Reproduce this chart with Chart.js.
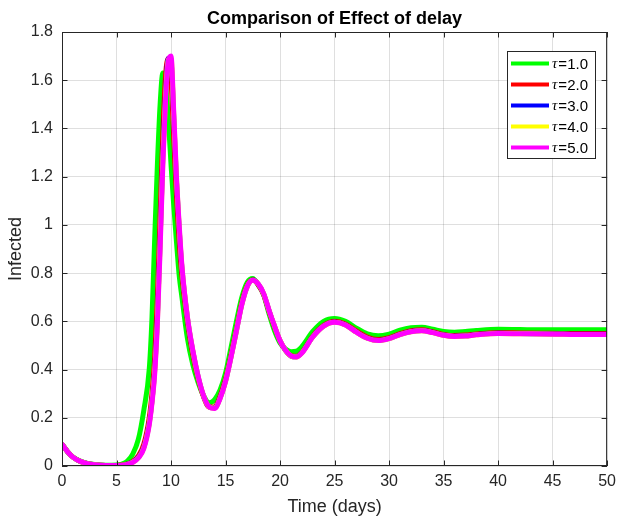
<!DOCTYPE html>
<html><head><meta charset="utf-8">
<script src="https://cdn.jsdelivr.net/npm/chart.js@4"></script>
<style>html,body{margin:0;padding:0;background:#fff;}#wrap{width:622px;height:518px;}</style>
</head><body><div id="wrap"><canvas id="c" width="622" height="518"></canvas></div>
<script>
const titleText = "Comparison of Effect of delay";
const xLabel = "Time (days)";
const yLabel = "Infected";
const seriesLabels = ["τ=1.0", "τ=2.0", "τ=3.0", "τ=4.0", "τ=5.0"];
const seriesColors = ["#00ff00", "#ff0000", "#0000ff", "#ffff00", "#ff00ff"];
const xTicks = [0, 5, 10, 15, 20, 25, 30, 35, 40, 45, 50];
const yTicks = [0, 0.2, 0.4, 0.6, 0.8, 1, 1.2, 1.4, 1.6, 1.8];

const time = [0,0.5,1,1.5,2,3,4,5,5.5,6,6.5,7,7.5,8,8.25,8.5,8.75,9,9.25,9.5,9.75,10,10.25,10.5,10.75,11,11.5,12,12.5,13,13.5,14,14.5,15,15.5,16,16.5,17,17.5,18,18.5,19,19.5,20,20.5,21,21.5,22,23,24,25,26,27,28,29,30,31,32,33,34,35,36,37,38,40,42,44,46,48,50];

const tau1 = [0.09,0.06,0.038,0.024,0.015, 0.006,0.003,0.004,0.008,0.02, 0.05,0.11,0.23,0.40,0.61, 0.94,1.25,1.50,1.63,1.585, 1.44,1.25,1.08,0.93,0.79, 0.70,0.53,0.42,0.345,0.29, 0.262,0.275,0.315,0.385,0.49, 0.60,0.70,0.762,0.778,0.75, 0.71,0.63,0.56,0.51,0.485, 0.474,0.476,0.495,0.558,0.60, 0.612,0.60,0.572,0.548,0.54, 0.547,0.563,0.573,0.575,0.567, 0.558,0.555,0.558,0.562,0.567, 0.566,0.565,0.565,0.565,0.565];
const tau2 = [0.09,0.06,0.037,0.023,0.014, 0.005,0.002,0.002,0.004,0.009, 0.02,0.042,0.09,0.2,0.3, 0.45,0.7,1.04,1.38,1.62, 1.69,1.6,1.36,1.12,0.93, 0.79,0.6,0.46,0.36,0.285, 0.245,0.245,0.29,0.36,0.46, 0.57,0.68,0.75,0.772,0.752, 0.71,0.64,0.575,0.518,0.48, 0.458,0.455,0.472,0.538,0.583, 0.6,0.589,0.56,0.535,0.525, 0.532,0.549,0.561,0.565,0.557, 0.546,0.541,0.543,0.548,0.553, 0.552,0.551,0.55,0.55,0.55];
const tau3 = [0.09,0.06,0.037,0.023,0.014, 0.005,0.002,0.002,0.003,0.008, 0.017,0.036,0.078,0.18,0.27, 0.40,0.62,0.94,1.29,1.55, 1.69,1.68,1.44,1.18,0.98, 0.82,0.615,0.475,0.367,0.288, 0.245,0.242,0.283,0.353,0.453, 0.563,0.673,0.746,0.771,0.754, 0.713,0.643,0.578,0.519,0.48, 0.456,0.453,0.47,0.536,0.581, 0.597,0.586,0.556,0.531,0.521, 0.529,0.546,0.558,0.562,0.554, 0.543,0.538,0.54,0.545,0.551, 0.55,0.548,0.547,0.546,0.546];
const tau4 = [0.09,0.06,0.037,0.023,0.014, 0.005,0.002,0.002,0.003,0.007, 0.016,0.034,0.075,0.175,0.265, 0.39,0.60,0.92,1.27,1.535, 1.685,1.69,1.455,1.19,0.99, 0.825,0.618,0.478,0.368,0.289, 0.245,0.24,0.281,0.351,0.451, 0.561,0.671,0.745,0.77,0.755, 0.714,0.644,0.579,0.52,0.48, 0.456,0.452,0.469,0.535,0.58, 0.596,0.585,0.555,0.53,0.52, 0.528,0.545,0.557,0.561,0.553, 0.542,0.537,0.539,0.544,0.55, 0.549,0.547,0.546,0.545,0.545];
const tau5 = [0.09,0.06,0.037,0.023,0.014, 0.005,0.002,0.002,0.003,0.007, 0.015,0.033,0.072,0.17,0.26, 0.38,0.59,0.90,1.25,1.52, 1.68,1.70,1.47,1.2,1.0, 0.83,0.62,0.48,0.37,0.29, 0.245,0.238,0.28,0.35,0.45, 0.56,0.67,0.745,0.77,0.755, 0.715,0.645,0.58,0.52,0.48, 0.457,0.452,0.468,0.535,0.58, 0.596,0.585,0.555,0.53,0.52, 0.528,0.545,0.557,0.561,0.553, 0.542,0.537,0.539,0.544,0.55, 0.549,0.547,0.546,0.545,0.545];

const seriesValues = [tau1, tau2, tau3, tau4, tau5];
const FONT = "'Liberation Sans', Arial, Helvetica, sans-serif";
const AXC = '#262626';

const datasets = seriesValues.map((vals, i) => ({
  label: seriesLabels[i],
  data: time.map((t, k) => ({ x: t, y: vals[k] })),
  borderColor: seriesColors[i],
  backgroundColor: seriesColors[i],
  borderWidth: 5,
  pointRadius: 0,
  fill: false,
  cubicInterpolationMode: 'monotone',
  borderCapStyle: 'round',
  borderJoinStyle: 'round',
  order: seriesValues.length - i
}));

const framePlugin = {
  id: 'frame',
  afterDraw(chart) {
    const { ctx, chartArea: a, scales } = chart;
    const xs = scales.x, ys = scales.y;
    ctx.save();
    ctx.strokeStyle = AXC;
    ctx.lineWidth = 1;
    ctx.strokeRect(a.left + 0.5, a.top + 0.5, a.right - a.left - 1, a.bottom - a.top - 1);
    const tl = 5.5;
    ctx.beginPath();
    xTicks.forEach(v => {
      const px = Math.round(xs.getPixelForValue(v)) + 0.5;
      ctx.moveTo(px, a.bottom); ctx.lineTo(px, a.bottom - tl);
      ctx.moveTo(px, a.top); ctx.lineTo(px, a.top + tl);
    });
    yTicks.forEach(v => {
      const py = Math.round(ys.getPixelForValue(v)) + 0.5;
      ctx.moveTo(a.left, py); ctx.lineTo(a.left + tl, py);
      ctx.moveTo(a.right, py); ctx.lineTo(a.right - tl, py);
    });
    ctx.stroke();

    // legend
    const lx = 507, ly = 51, lw = 88, lh = 107;
    ctx.fillStyle = '#fff';
    ctx.fillRect(lx, ly, lw, lh);
    ctx.strokeStyle = AXC;
    ctx.strokeRect(lx + 0.5, ly + 0.5, lw, lh);
    chart.data.datasets.forEach((ds, i) => {
      const cy = ly + 12.5 + i * 21;
      ctx.strokeStyle = ds.borderColor;
      ctx.lineWidth = 4;
      ctx.beginPath();
      ctx.moveTo(lx + 4, cy); ctx.lineTo(lx + 42, cy);
      ctx.stroke();
      const sym = ds.label.charAt(0), rest = ds.label.slice(1);
      ctx.fillStyle = '#000';
      ctx.textBaseline = 'middle';
      ctx.textAlign = 'left';
      ctx.font = "italic 15px 'Liberation Serif', 'DejaVu Serif', serif";
      ctx.fillText(sym, lx + 45, cy + 1);
      const w = ctx.measureText(sym).width;
      ctx.font = "15px " + FONT;
      ctx.fillText(rest, lx + 45 + w + 1, cy + 1);
    });
    ctx.restore();
  }
};

new Chart(document.getElementById('c'), {
  type: 'line',
  data: { datasets },
  plugins: [framePlugin],
  options: {
    responsive: false,
    animation: false,
    devicePixelRatio: 1,
    layout: { padding: { top: 0, right: 10, left: 0, bottom: 0 } },
    plugins: {
      legend: { display: false },
      tooltip: { enabled: false },
      title: {
        display: true, text: titleText, color: '#000', fullSize: false,
        font: { family: FONT, size: 18, weight: 'bold', lineHeight: 1.2 },
        padding: { top: 8, bottom: 2.4 }
      }
    },
    scales: {
      x: {
        type: 'linear', min: 0, max: 50,
        afterBuildTicks: s => { s.ticks = xTicks.map(v => ({ value: v })); },
        afterFit: s => { s.height = 52; },
        ticks: { color: AXC, font: { family: FONT, size: 16 }, padding: 6, maxRotation: 0 },
        grid: { color: 'rgba(38,38,38,0.15)', drawTicks: false },
        border: { display: false },
        title: { display: true, text: xLabel, color: AXC, font: { family: FONT, size: 18 }, padding: { top: 0, bottom: 0 } }
      },
      y: {
        type: 'linear', min: 0, max: 1.8,
        afterBuildTicks: s => { s.ticks = yTicks.map(v => ({ value: v })); },
        afterFit: s => { s.width = 62; },
        ticks: { color: AXC, font: { family: FONT, size: 16 }, padding: 9, callback: v => String(Math.round(v * 10) / 10) },
        grid: { color: 'rgba(38,38,38,0.15)', drawTicks: false },
        border: { display: false },
        title: { display: true, text: yLabel, color: AXC, font: { family: FONT, size: 18 }, padding: { top: 5, bottom: 0 } }
      }
    }
  }
});
</script>
</body></html>
